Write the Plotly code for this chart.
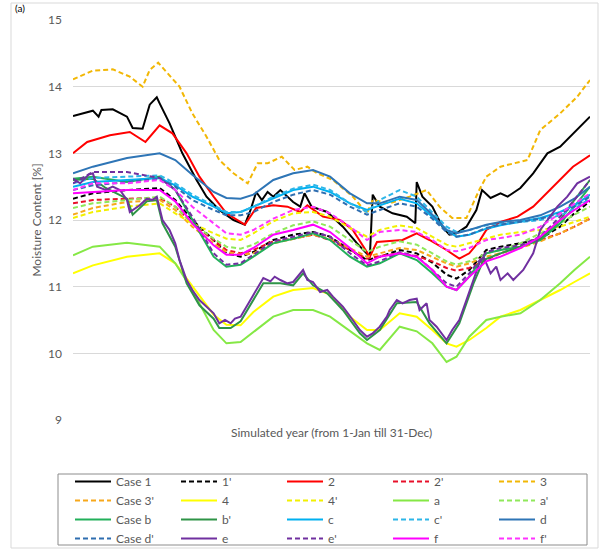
import plotly.graph_objects as go

# ---------------- data (day of year, moisture content %) ----------------
days = [1, 15, 39, 62, 73, 85, 100, 109, 119, 128, 142, 156, 170, 182, 196,
        208, 217, 231, 243, 254, 264, 271, 280, 292, 302, 316, 330, 344, 354, 365]

case1_days = [1, 15, 19, 21, 29, 39, 43, 50, 55, 60, 62, 69, 78, 88, 95, 104, 114,
              122, 126, 130, 134, 138, 142, 147, 156, 161, 164, 169, 180, 191, 201,
              210, 212, 217, 226, 236, 242, 243, 247, 254, 261, 266, 271, 278, 285,
              289, 295, 302, 307, 316, 325, 335, 344, 358, 365]
case1 = [13.56, 13.64, 13.55, 13.65, 13.66, 13.55, 13.38, 13.37, 13.73, 13.84, 13.75,
         13.45, 13.0, 12.6, 12.35, 12.15, 12.0, 11.93, 12.15, 12.42, 12.3, 12.42, 12.35,
         12.45, 12.27, 12.2, 12.4, 12.2, 12.12, 11.9, 11.65, 11.45, 12.38, 12.2, 12.1,
         12.05, 11.95, 12.57, 12.35, 12.2, 11.9, 11.78, 11.8, 11.9, 12.15, 12.45, 12.33,
         12.4, 12.35, 12.48, 12.7, 13.0, 13.1, 13.4, 13.55]

case2_days = [1, 11, 27, 41, 52, 57, 62, 71, 81, 90, 100, 109, 119, 122, 130, 142,
              152, 161, 166, 177, 189, 198, 210, 215, 233, 243, 252, 264, 273, 280,
              287, 292, 302, 314, 325, 339, 353, 365]
case2 = [13.0, 13.17, 13.27, 13.32, 13.17, 13.3, 13.42, 13.3, 13.0, 12.65, 12.35,
         12.1, 11.97, 11.93, 12.18, 12.22, 12.2, 12.12, 12.22, 12.05, 12.0, 11.85,
         11.45, 11.67, 11.7, 11.8, 11.7, 11.55, 11.42, 11.5, 11.68, 11.85, 11.97,
         12.05, 12.2, 12.5, 12.8, 12.97]

case3_days = [1, 15, 29, 41, 50, 55, 61, 71, 76, 85, 95, 104, 114, 124, 131, 138,
              148, 157, 166, 173, 184, 198, 208, 212, 224, 238, 250, 259, 268, 278,
              287, 292, 302, 321, 330, 344, 356, 365]
case3 = [14.11, 14.24, 14.26, 14.15, 14.0, 14.25, 14.36, 14.13, 14.0, 13.6, 13.25,
         12.9, 12.7, 12.55, 12.85, 12.85, 12.95, 12.75, 12.8, 12.7, 12.6, 12.35, 12.1,
         12.3, 12.25, 12.35, 12.45, 12.2, 12.03, 12.03, 12.45, 12.65, 12.8, 12.9,
         13.35, 13.6, 13.85, 14.1]

case1p = [12.32, 12.4, 12.45, 12.48, 12.3, 12.0, 11.7, 11.5, 11.45, 11.52, 11.7, 11.78,
          11.82, 11.75, 11.55, 11.4, 11.45, 11.55, 11.5, 11.36, 11.18, 11.12, 11.25,
          11.55, 11.6, 11.65, 11.72, 11.9, 12.1, 12.28]
case2p = [12.25, 12.3, 12.32, 12.33, 12.2, 11.95, 11.7, 11.55, 11.5, 11.55, 11.68, 11.72,
          11.78, 11.7, 11.55, 11.42, 11.46, 11.5, 11.46, 11.38, 11.28, 11.24, 11.28,
          11.4, 11.5, 11.6, 11.7, 11.8, 11.9, 12.02]
case3p = [12.08, 12.18, 12.27, 12.3, 12.15, 11.9, 11.65, 11.52, 11.48, 11.5, 11.65, 11.72,
          11.78, 11.72, 11.58, 11.45, 11.5, 11.58, 11.55, 11.45, 11.35, 11.3, 11.35,
          11.45, 11.5, 11.58, 11.68, 11.8, 11.9, 12.02]
case4 = [11.2, 11.32, 11.45, 11.5, 11.35, 11.0, 10.58, 10.43, 10.42, 10.62, 10.85, 10.95,
         10.98, 10.88, 10.55, 10.35, 10.35, 10.6, 10.55, 10.35, 10.15, 10.1, 10.2,
         10.38, 10.55, 10.65, 10.8, 10.95, 11.07, 11.2]
case4p = [12.03, 12.12, 12.2, 12.25, 12.1, 11.95, 11.8, 11.72, 11.7, 11.8, 11.98, 12.1,
          12.12, 12.05, 11.88, 11.75, 11.85, 11.92, 11.88, 11.75, 11.63, 11.6, 11.65,
          11.72, 11.78, 11.82, 11.85, 11.9, 11.97, 12.05]
case_a = [11.47, 11.6, 11.66, 11.6, 11.35, 10.95, 10.35, 10.15, 10.17, 10.32, 10.55,
          10.65, 10.65, 10.55, 10.33, 10.15, 10.05, 10.4, 10.33, 10.15, 9.87, 9.95,
          10.25, 10.5, 10.55, 10.6, 10.8, 11.05, 11.25, 11.45]
case_ap = [12.18, 12.25, 12.3, 12.35, 12.2, 11.95, 11.72, 11.6, 11.57, 11.63, 11.8, 11.92,
           11.98, 11.9, 11.7, 11.52, 11.6, 11.68, 11.63, 11.5, 11.38, 11.33, 11.38,
           11.5, 11.55, 11.65, 11.8, 11.95, 12.08, 12.2]
case_b = [12.62, 12.65, 12.57, 12.65, 12.45, 12.0, 11.45, 11.3, 11.33, 11.45, 11.65,
          11.72, 11.8, 11.7, 11.45, 11.3, 11.35, 11.5, 11.4, 11.2, 11.0, 10.95, 11.15,
          11.5, 11.55, 11.6, 11.7, 11.95, 12.2, 12.5]

case_bp_days = [1, 15, 24, 39, 43, 53, 60, 64, 73, 81, 90, 100, 104, 112, 119, 123,
                130, 135, 147, 156, 163, 170, 180, 191, 203, 208, 217, 229, 243, 252,
                264, 273, 283, 290, 302, 316, 330, 344, 354, 365]
case_bp = [12.6, 12.62, 12.48, 12.32, 12.08, 12.28, 12.3, 11.95, 11.6, 11.05, 10.72,
           10.52, 10.38, 10.38, 10.48, 10.62, 10.88, 11.05, 11.05, 11.02, 11.2, 11.02,
           10.9, 10.65, 10.3, 10.2, 10.35, 10.75, 10.77, 10.45, 10.15, 10.45, 11.05,
           11.4, 11.5, 11.6, 11.72, 12.0, 12.3, 12.6]

case_c = [12.5, 12.57, 12.6, 12.63, 12.52, 12.35, 12.2, 12.1, 12.12, 12.2, 12.33, 12.45,
          12.5, 12.42, 12.25, 12.15, 12.22, 12.32, 12.25, 12.05, 11.85, 11.75, 11.78,
          11.87, 11.92, 11.97, 12.03, 12.12, 12.22, 12.38]
case_cp = [12.55, 12.63, 12.65, 12.67, 12.55, 12.38, 12.22, 12.12, 12.12, 12.2, 12.35,
           12.47, 12.53, 12.45, 12.25, 12.12, 12.3, 12.45, 12.35, 12.12, 11.9, 11.82,
           11.85, 11.92, 11.95, 11.97, 12.0, 12.07, 12.17, 12.32]
case_d = [12.7, 12.8, 12.93, 13.0, 12.9, 12.68, 12.42, 12.33, 12.32, 12.38, 12.6, 12.7,
          12.75, 12.65, 12.4, 12.25, 12.25, 12.35, 12.3, 12.08, 11.85, 11.8, 11.85,
          11.93, 11.97, 12.0, 12.07, 12.2, 12.32, 12.5]
case_dp = [12.45, 12.52, 12.57, 12.62, 12.5, 12.3, 12.15, 12.07, 12.07, 12.12, 12.27,
           12.38, 12.45, 12.38, 12.2, 12.08, 12.15, 12.25, 12.2, 12.02, 11.82, 11.75,
           11.78, 11.88, 11.93, 11.97, 12.02, 12.1, 12.2, 12.35]

case_e_days = [1, 6, 12, 15, 18, 24, 29, 34, 39, 41, 48, 53, 57, 60, 64, 69, 73, 76,
               81, 85, 90, 95, 100, 104, 108, 112, 115, 119, 123, 130, 135, 140, 143,
               147, 152, 156, 163, 166, 170, 175, 180, 184, 191, 198, 203, 208, 212,
               217, 222, 224, 229, 233, 238, 243, 245, 250, 252, 257, 264, 268, 273,
               278, 283, 287, 290, 295, 299, 302, 307, 311, 318, 325, 330, 335, 342,
               349, 356, 365]
case_e = [12.62, 12.55, 12.68, 12.7, 12.5, 12.45, 12.5, 12.45, 12.3, 12.12, 12.22,
          12.32, 12.3, 12.35, 12.0, 11.85, 11.65, 11.4, 11.1, 10.95, 10.8, 10.7, 10.6,
          10.45, 10.5, 10.45, 10.52, 10.55, 10.7, 10.95, 11.13, 11.08, 11.15, 11.1,
          11.05, 11.07, 11.25, 11.1, 11.07, 10.92, 10.95, 10.85, 10.7, 10.5, 10.35,
          10.25, 10.3, 10.4, 10.55, 10.65, 10.8, 10.75, 10.8, 10.82, 10.65, 10.75,
          10.5, 10.4, 10.2, 10.35, 10.5, 10.8, 11.1, 11.35, 11.45, 11.2, 11.3, 11.1,
          11.2, 11.1, 11.25, 11.5, 11.85, 12.0, 12.2, 12.35, 12.55, 12.65]
case_ep = [12.55, 12.72, 12.72, 12.63, 12.45, 12.05, 11.5, 11.33, 11.35, 11.48, 11.68,
           11.75, 11.82, 11.75, 11.5, 11.32, 11.38, 11.52, 11.45, 11.25, 11.05, 11.0,
           11.2, 11.52, 11.58, 11.62, 11.75, 12.05, 12.3, 12.6]
case_f = [12.4, 12.42, 12.45, 12.45, 12.28, 11.95, 11.62, 11.48, 11.48, 11.58, 11.78,
          11.85, 11.93, 11.82, 11.58, 11.35, 11.45, 11.5, 11.45, 11.25, 11.0, 10.95,
          11.15, 11.38, 11.45, 11.58, 11.75, 12.0, 12.15, 12.3]
case_fp = [12.45, 12.55, 12.55, 12.6, 12.45, 12.2, 11.95, 11.8, 11.78, 11.85, 12.02,
           12.15, 12.2, 12.1, 11.9, 11.7, 11.82, 11.85, 11.82, 11.7, 11.55, 11.53,
           11.58, 11.7, 11.73, 11.78, 11.9, 12.1, 12.25, 12.4]

y_ticks = [9, 10, 11, 12, 13, 14, 15]

# name, x, y, colour, dashed
series = [
    ("Case 1", case1_days, case1, "#000000", False),
    ("1'", days, case1p, "#000000", True),
    ("2", case2_days, case2, "#FF0000", False),
    ("2'", days, case2p, "#E8102A", True),
    ("3", case3_days, case3, "#F2B705", True),
    ("Case 3'", days, case3p, "#F7A81B", True),
    ("4", days, case4, "#FFFF00", False),
    ("4'", days, case4p, "#F2F000", True),
    ("a", days, case_a, "#85E845", False),
    ("a'", days, case_ap, "#8FE85A", True),
    ("Case b", days, case_b, "#22B05A", False),
    ("b'", case_bp_days, case_bp, "#2E9447", False),
    ("c", days, case_c, "#00B0F0", False),
    ("c'", days, case_cp, "#2DB6E8", True),
    ("d", days, case_d, "#2E75B6", False),
    ("Case d'", days, case_dp, "#2F6EB0", True),
    ("e", case_e_days, case_e, "#7030A0", False),
    ("e'", days, case_ep, "#7030A0", True),
    ("f", days, case_f, "#FF00FF", False),
    ("f'", days, case_fp, "#FF33FF", True),
]

fig = go.Figure()
for name, xs, ys, col, dashed in series:
    fig.add_trace(go.Scatter(
        x=xs, y=ys, name=name, mode="lines",
        line=dict(color=col, width=2, dash="5px,3px" if dashed else "solid"),
    ))

grey = "#595959"
fig.update_layout(
    width=609, height=554,
    margin=dict(l=73, r=19, t=20, b=134, autoexpand=False),
    plot_bgcolor="white", paper_bgcolor="white",
    font=dict(family="Lato, Open Sans, sans-serif", size=12, color=grey),
    xaxis=dict(range=[1, 365], showticklabels=False, showgrid=False,
               zeroline=False, showline=False, ticks=""),
    yaxis=dict(range=[9, 15], tickvals=y_ticks, showgrid=True, gridcolor="#D9D9D9",
               gridwidth=1, zeroline=False, showline=False, ticks="",
               ticklabelstandoff=10, tickfont=dict(size=12, color=grey),
               title=dict(text="Moisture Content [%]", standoff=3,
                          font=dict(size=12, color=grey))),
    showlegend=True,
    legend=dict(orientation="h", x=-0.0058, y=-0.1175, xanchor="left", yanchor="top",
                entrywidth=55, entrywidthmode="pixels", borderwidth=0,
                bgcolor="rgba(0,0,0,0)",
                font=dict(size=12, color=grey), traceorder="normal", itemwidth=36),
    shapes=[
        dict(type="rect", xref="paper", yref="paper", x0=-0.1199, x1=1.0155,
             y0=-0.32, y1=1.0425, line=dict(color="#D9D9D9", width=1),
             fillcolor="rgba(0,0,0,0)", layer="below"),
        dict(type="rect", xref="paper", yref="paper", x0=-0.029, x1=0.9942,
             y0=-0.3125, y1=-0.135, line=dict(color="#8C8C8C", width=1),
             fillcolor="rgba(0,0,0,0)", layer="below"),
    ],
    annotations=[
        dict(text="Simulated year (from 1-Jan till 31-Dec)", xref="paper", yref="paper",
             x=0.5, y=-0.03, xanchor="center", yanchor="middle", showarrow=False,
             font=dict(size=12, color=grey)),
        dict(text="(a)", xref="paper", yref="paper", x=-0.116, y=1.05,
             xanchor="left", yanchor="top", showarrow=False,
             font=dict(size=10, color="#000000")),
    ],
)

fig.write_html("out.html", config={"displayModeBar": False},
               post_script="document.body.style.margin='0';")
